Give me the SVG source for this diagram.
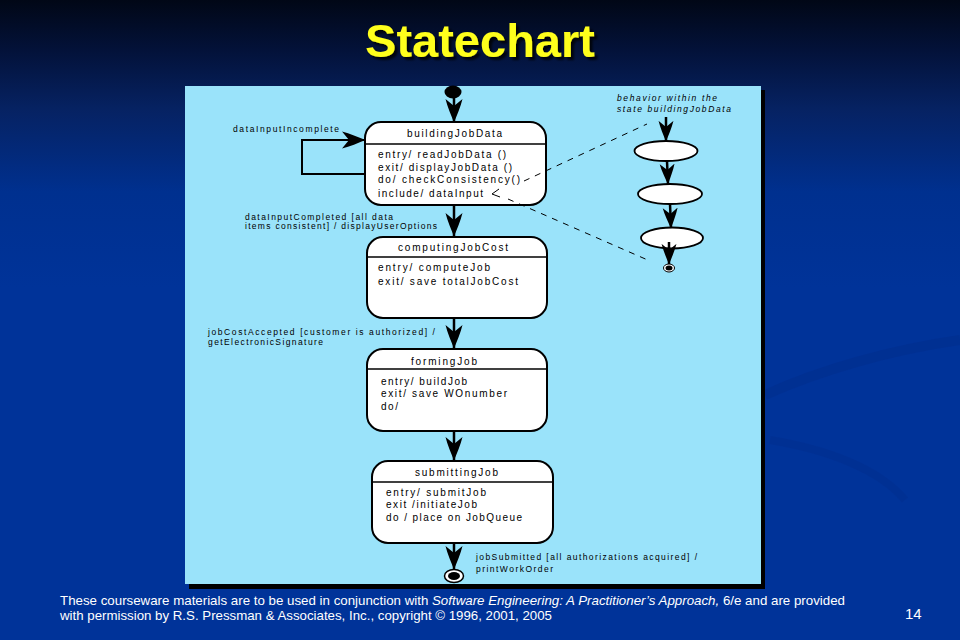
<svg xmlns="http://www.w3.org/2000/svg" width="960" height="640" viewBox="0 0 960 640">
<defs>
<linearGradient id="bg" x1="0" y1="0" x2="0" y2="1">
<stop offset="0" stop-color="#010716"/>
<stop offset="0.08" stop-color="#03123a"/>
<stop offset="0.17" stop-color="#062262"/>
<stop offset="0.3" stop-color="#00308f"/>
<stop offset="0.45" stop-color="#003399"/>
<stop offset="1" stop-color="#003399"/>
</linearGradient>
<filter id="sh" x="-10%" y="-20%" width="120%" height="150%">
<feDropShadow dx="3" dy="3" stdDeviation="1" flood-color="#000" flood-opacity="0.8"/>
</filter>
<marker id="ah" viewBox="-23 -9 24 18" refX="0" refY="0" markerWidth="24" markerHeight="18" markerUnits="userSpaceOnUse" orient="auto">
<path d="M0.5,0 C-7,-3 -15,-6.5 -23,-8.5 L-16,0 L-23,8.5 C-15,6.5 -7,3 0.5,0 Z" fill="#000"/>
</marker>
<marker id="ahs" viewBox="-23 -9 24 18" refX="0" refY="0" markerWidth="21" markerHeight="16" markerUnits="userSpaceOnUse" orient="auto">
<path d="M0.5,0 C-7,-3 -15,-6.5 -23,-8.5 L-16,0 L-23,8.5 C-15,6.5 -7,3 0.5,0 Z" fill="#000"/>
</marker>
<style>
.t{font-family:"Liberation Sans",Arial,sans-serif;font-size:10px;fill:#000}
.l{font-family:"Liberation Sans",Arial,sans-serif;font-size:8.5px;fill:#000}
.i{font-family:"Liberation Sans",Arial,sans-serif;font-size:8.5px;font-style:italic;fill:#000}
.box{fill:#fff;stroke:#000;stroke-width:2}
.div{stroke:#000;stroke-width:1.5}
.con{fill:none;stroke:#000;stroke-width:2.5}
.loop{fill:none;stroke:#000;stroke-width:2}
.dash{fill:none;stroke:#000;stroke-width:1;stroke-dasharray:6 6}
.act{fill:#fff;stroke:#000;stroke-width:1.8}
.foot{font-family:"Liberation Sans",Arial,sans-serif;font-size:13px;fill:#fff}
</style>
</defs>
<rect width="960" height="640" fill="url(#bg)"/>
<path d="M765,395 C820,370 890,350 960,340" fill="none" stroke="#002c88" stroke-width="10" opacity="0.35"/>
<path d="M770,440 C830,450 880,470 905,500" fill="none" stroke="#002c88" stroke-width="8" opacity="0.3"/>
<text x="480" y="57" text-anchor="middle" font-family="Liberation Sans,Arial,sans-serif" font-weight="bold" font-size="47" fill="#ffff1a" filter="url(#sh)">Statechart</text>
<rect x="189" y="90" width="576" height="499" fill="#000"/>
<rect x="185" y="86" width="576" height="498" fill="#9ae3fa"/>

<g id="initial"><ellipse cx="453" cy="92" rx="8.5" ry="6.5" fill="#000"/></g>

<g id="buildingJobData">
<rect class="box" x="365" y="122" width="181" height="83" rx="16"/>
<line class="div" x1="365" y1="144" x2="546" y2="144"/>
<text class="t" x="407" y="137" textLength="95" lengthAdjust="spacing">buildingJobData</text>
<text class="t" x="378" y="158" textLength="128" lengthAdjust="spacing">entry/ readJobData ()</text>
<text class="t" x="378" y="171" textLength="134" lengthAdjust="spacing">exit/ displayJobData ()</text>
<text class="t" x="378" y="183" textLength="142" lengthAdjust="spacing">do/ checkConsistency()</text>
<text class="t" x="378" y="197" textLength="105" lengthAdjust="spacing">include/ dataInput</text>
</g>

<g id="computingJobCost">
<rect class="box" x="367" y="237" width="180" height="81" rx="16"/>
<line class="div" x1="367" y1="257" x2="547" y2="257"/>
<text class="t" x="398" y="251" textLength="110" lengthAdjust="spacing">computingJobCost</text>
<text class="t" x="378" y="271" textLength="112" lengthAdjust="spacing">entry/ computeJob</text>
<text class="t" x="378" y="285" textLength="140" lengthAdjust="spacing">exit/ save totalJobCost</text>
</g>

<g id="formingJob">
<rect class="box" x="367" y="349" width="180" height="82" rx="16"/>
<line class="div" x1="367" y1="369" x2="547" y2="369"/>
<text class="t" x="411" y="365" textLength="66" lengthAdjust="spacing">formingJob</text>
<text class="t" x="381" y="385" textLength="86" lengthAdjust="spacing">entry/ buildJob</text>
<text class="t" x="381" y="397" textLength="126" lengthAdjust="spacing">exit/ save WOnumber</text>
<text class="t" x="381" y="410" textLength="17" lengthAdjust="spacing">do/</text>
</g>

<g id="submittingJob">
<rect class="box" x="372" y="461" width="181" height="82" rx="16"/>
<line class="div" x1="372" y1="482" x2="553" y2="482"/>
<text class="t" x="415" y="476" textLength="83" lengthAdjust="spacing">submittingJob</text>
<text class="t" x="386" y="496" textLength="100" lengthAdjust="spacing">entry/ submitJob</text>
<text class="t" x="386" y="508" textLength="91" lengthAdjust="spacing">exit /initiateJob</text>
<text class="t" x="386" y="521" textLength="136" lengthAdjust="spacing">do / place on  JobQueue</text>
</g>

<g id="final">
<ellipse cx="454" cy="576" rx="9.5" ry="6.5" fill="#fff" stroke="#000" stroke-width="1.5"/>
<ellipse cx="454" cy="576" rx="6" ry="4" fill="#000"/>
</g>

<g id="activity1"><ellipse class="act" cx="666" cy="151" rx="31.5" ry="10"/></g>
<g id="activity2"><ellipse class="act" cx="670" cy="194" rx="32" ry="10"/></g>
<g id="activity3"><ellipse class="act" cx="672" cy="238" rx="31" ry="10.5"/></g>
<g id="activityFinal">
<ellipse cx="669" cy="268" rx="5.5" ry="4" fill="#fff" stroke="#000" stroke-width="1"/>
<ellipse cx="669" cy="268" rx="3.5" ry="2.5" fill="#000"/>
</g>

<g id="connectors">
<line class="con" x1="454" y1="98" x2="454" y2="122" marker-end="url(#ah)"/>
<polyline class="loop" points="365,174 302,174 302,140 365,140" marker-end="url(#ah)"/>
<line class="con" x1="454" y1="205" x2="454" y2="236" marker-end="url(#ah)"/>
<line class="con" x1="454" y1="318" x2="454" y2="348" marker-end="url(#ah)"/>
<line class="con" x1="454" y1="431" x2="454" y2="460" marker-end="url(#ah)"/>
<line class="con" x1="454" y1="543" x2="454" y2="569" marker-end="url(#ah)"/>
<line class="con" x1="666" y1="117" x2="666" y2="141" marker-end="url(#ahs)"/>
<line class="con" x1="667" y1="161" x2="668" y2="184" marker-end="url(#ahs)"/>
<line class="con" x1="670" y1="204" x2="671" y2="228" marker-end="url(#ahs)"/>
<line class="con" x1="669" y1="242" x2="669" y2="264" marker-end="url(#ahs)"/>
<line class="dash" x1="524" y1="181" x2="647" y2="124"/>
<line class="dash" x1="508" y1="199" x2="650" y2="261"/>
<polyline fill="none" stroke="#000" stroke-width="1" points="499,189 492,194 500,197"/>
<text class="l" x="233" y="132" textLength="106" lengthAdjust="spacing">dataInputIncomplete</text>
<text class="l" x="245" y="220" textLength="148" lengthAdjust="spacing">dataInputCompleted [all data</text>
<text class="l" x="245" y="229" textLength="192" lengthAdjust="spacing">items consistent] / displayUserOptions</text>
<text class="l" x="208" y="335" textLength="227" lengthAdjust="spacing">jobCostAccepted [customer is authorized] /</text>
<text class="l" x="208" y="345" textLength="115" lengthAdjust="spacing">getElectronicSignature</text>
<text class="l" x="476" y="560" textLength="221" lengthAdjust="spacing">jobSubmitted [all authorizations acquired] /</text>
<text class="l" x="476" y="572" textLength="77" lengthAdjust="spacing">printWorkOrder</text>
<text class="i" x="617" y="101" textLength="100" lengthAdjust="spacing">behavior within  the</text>
<text class="i" x="617" y="112" textLength="114" lengthAdjust="spacing">state buildingJobData</text>
</g>

<text class="foot" x="60" y="605" textLength="785" lengthAdjust="spacingAndGlyphs">These courseware materials are to be used in conjunction with <tspan font-style="italic">Software Engineering:  A Practitioner’s Approach,</tspan> 6/e and are provided</text>
<text class="foot" x="60" y="620" textLength="492" lengthAdjust="spacingAndGlyphs">with permission by R.S. Pressman &amp; Associates, Inc., copyright © 1996, 2001, 2005</text>
<text x="905" y="619" font-family="Liberation Sans,Arial,sans-serif" font-size="15" fill="#fff">14</text>
</svg>
